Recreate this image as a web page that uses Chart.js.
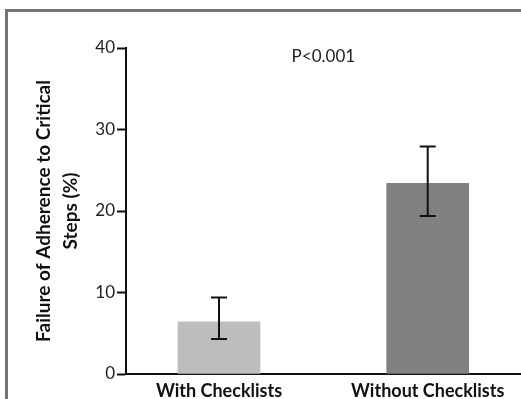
<!DOCTYPE html>
<html>
<head>
<meta charset="utf-8">
<script src="https://cdn.jsdelivr.net/npm/chart.js@4.4.1/dist/chart.umd.min.js"></script>
<style>
  html, body { margin: 0; padding: 0; background: #fff; }
  #frame { position: absolute; left: 5px; top: 9px; width: 600px; height: 500px; border: 3px solid #747474; }
  #wrap { position: absolute; left: 0; top: 0; width: 521px; height: 399px; }
</style>
</head>
<body>
<div id="frame"></div>
<div id="wrap"><canvas id="chart" width="521" height="399"></canvas></div>
<script>
// data
const categories = ['With Checklists', 'Without Checklists'];
const positions = [1, 2];
const failureRate = [6.4, 23.4];
const errLow = [4.3, 19.4];
const errHigh = [9.4, 27.9];
const yTicks = [0, 10, 20, 30, 40];
const pLabel = 'P<0.001';

const FONT = 'Lato, "Open Sans", sans-serif';

// error bars + p value text
const errorBars = {
    id: 'errorBars',
    afterDatasetsDraw(chart) {
        const ctx = chart.ctx;
        const x = chart.scales.x;
        const y = chart.scales.y;
        ctx.save();
        ctx.strokeStyle = '#111';
        ctx.lineWidth = 2;
        positions.forEach((p, i) => {
            const px = x.getPixelForValue(p);
            const top = y.getPixelForValue(errHigh[i]);
            const bot = y.getPixelForValue(errLow[i]);
            ctx.beginPath();
            ctx.moveTo(px, top); ctx.lineTo(px, bot);
            ctx.moveTo(px - 8, top); ctx.lineTo(px + 8, top);
            ctx.moveTo(px - 8, bot); ctx.lineTo(px + 8, bot);
            ctx.stroke();
        });
        ctx.fillStyle = '#222';
        ctx.font = '17px ' + FONT;
        ctx.textAlign = 'center';
        ctx.textBaseline = 'middle';
        ctx.fillText(pLabel, x.getPixelForValue(1.5), y.getPixelForValue(38.9));
        ctx.restore();
    }
};

new Chart(document.getElementById('chart'), {
    type: 'bar',
    data: {
        datasets: [{
            data: positions.map((p, i) => ({ x: p, y: failureRate[i] })),
            backgroundColor: ['#bcbdbf', '#808183'],
            barThickness: 82,
            borderWidth: 0
        }]
    },
    plugins: [errorBars],
    options: {
        responsive: false,
        animation: false,
        layout: { padding: { top: 48, right: 0, left: 0, bottom: 0 } },
        plugins: { legend: { display: false }, tooltip: { enabled: false } },
        scales: {
            x: {
                type: 'linear',
                offset: false,
                min: 0.5544,
                max: 2.447,
                afterBuildTicks(scale) { scale.ticks = positions.map(v => ({ value: v })); },
                afterFit(scale) { scale.height = 25; },
                grid: { display: false, drawTicks: false, offset: false },
                border: { color: '#111', width: 2 },
                ticks: {
                    padding: 6,
                    color: '#111',
                    font: { family: FONT, size: 18, weight: 'bold' },
                    callback: (v) => categories[positions.indexOf(v)] || ''
                }
            },
            y: {
                min: 0,
                max: 40,
                afterBuildTicks(scale) { scale.ticks = yTicks.map(v => ({ value: v })); },
                afterFit(scale) { scale.width = 126; },
                grid: { drawOnChartArea: false, tickLength: 9, tickColor: '#111', tickWidth: 2 },
                border: { color: '#111', width: 2 },
                ticks: {
                    padding: 2,
                    color: '#222',
                    font: { family: FONT, size: 17 }
                },
                title: {
                    display: true,
                    text: ['Failure of Adherence to Critical', 'Steps (%)'],
                    color: '#111',
                    padding: { top: 31, bottom: 0 },
                    font: { family: FONT, size: 19, weight: 'bold', lineHeight: 1.4 }
                }
            }
        }
    }
});
</script>
</body>
</html>
